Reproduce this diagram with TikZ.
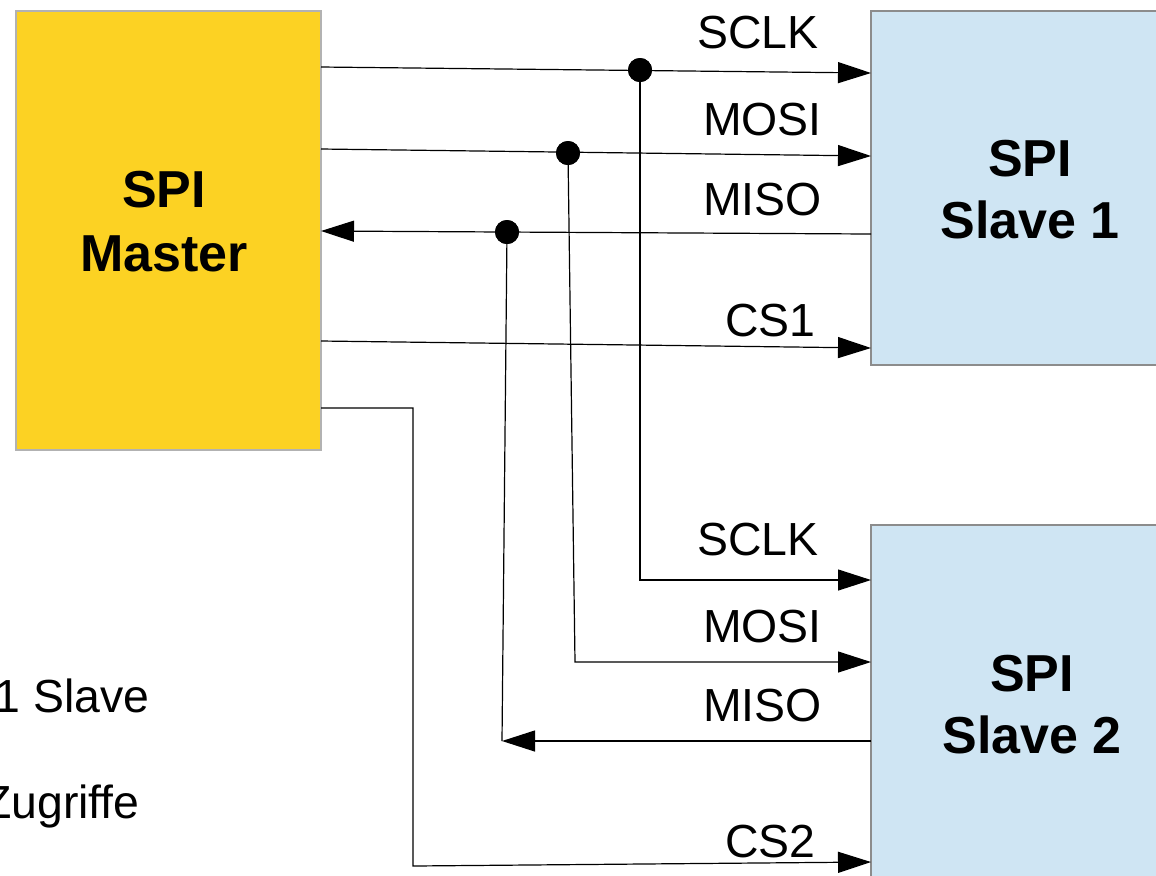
\documentclass[tikz,border=0pt]{standalone}
\usepackage{fontspec}
\setmainfont{Liberation Sans}
\usetikzlibrary{arrows.meta}
\definecolor{masterY}{RGB}{252,210,35}
\definecolor{slaveB}{RGB}{207,229,243}
\begin{document}
\begin{tikzpicture}[x=0.5pt,y=-0.5pt,
  box/.style={line width=0.6pt, inner sep=0pt},
  btxt/.style={align=center, inner sep=0pt, font=\bfseries\fontsize{26}{31}\selectfont},
  wire/.style={line width=0.6pt, draw=black},
  sig/.style={wire, -{Triangle[length=16.5pt,width=10.5pt]}},
  lbl/.style={anchor=base east, inner sep=0pt, font=\fontsize{23.2}{27}\selectfont},
  dotn/.style={circle, fill=black, inner sep=0pt, minimum size=12pt}]
\useasboundingbox (0,0) rectangle (1156,875);
\clip (0,0) rectangle (1156,875);
% boxes
\node[box, draw=black!30, fill=masterY, minimum width=152.5pt, minimum height=219.5pt] (master) at (168.5,230.5) {};
\node[btxt, font=\bfseries\fontsize{26}{32}\selectfont] (mtext) at (164,222) {SPI\\Master};
\node[box, draw=black!45, fill=slaveB, minimum width=159pt, minimum height=177pt] (slave1) at (1030,188) {};
\node[btxt] (s1text) at (1030,190) {SPI\\Slave 1};
\node[box, draw=black!45, fill=slaveB, minimum width=159pt, minimum height=180pt] (slave2) at (1030,705) {};
\node[btxt] (s2text) at (1032,705) {SPI\\Slave 2};
% coordinates on master
\coordinate (mSCLK) at (321,67);
\coordinate (mMOSI) at (321,149);
\coordinate (mMISO) at (321,231);
\coordinate (mCS1) at (321,341);
\coordinate (mCS2) at (321,408);
% coordinates on slave 1
\coordinate (aSCLK) at (871,73);
\coordinate (aMOSI) at (871,156);
\coordinate (aMISO) at (871,234);
\coordinate (aCS1) at (871,348);
% coordinates on slave 2
\coordinate (bSCLK) at (871,580);
\coordinate (bMOSI) at (871,662);
\coordinate (bMISO) at (871,741);
\coordinate (bCS2) at (871,862);
% junctions
\node[dotn] (jSCLK) at (640,70) {};
\node[dotn] (jMOSI) at (568,153) {};
\node[dotn] (jMISO) at (507,232) {};
\coordinate (cSCLK) at (640,580);
\coordinate (cMOSI) at (575,662);
\coordinate (cMISO) at (502,741);
\coordinate (cCS2a) at (413,408);
\coordinate (cCS2b) at (413,866);
% wires to slave 1
\draw[sig] (mSCLK) -- (aSCLK);
\draw[sig] (mMOSI) -- (aMOSI);
\draw[sig] (aMISO) -- (mMISO);
\draw[sig] (mCS1) -- (aCS1);
% wires to slave 2
\draw[sig] (jSCLK.center) -- (cSCLK) -- (bSCLK);
\draw[sig] (jMOSI.center) -- (cMOSI) -- (bMOSI);
\draw[wire] (jMISO.center) -- (cMISO);
\draw[sig] (bMISO) -- (cMISO);
\draw[sig] (mCS2) -- (cCS2a) -- (cCS2b) -- (bCS2);
% redraw dots on top
\fill (jSCLK) circle (6pt);
\fill (jMOSI) circle (6pt);
\fill (jMISO) circle (6pt);
% labels
\node[lbl] (lSCLK1) at (819,48) {SCLK};
\node[lbl] (lMOSI1) at (822,135) {MOSI};
\node[lbl] (lMISO1) at (822,215) {MISO};
\node[lbl] (lCS1) at (816,336) {CS1};
\node[lbl] (lSCLK2) at (819,555) {SCLK};
\node[lbl] (lMOSI2) at (822,642) {MOSI};
\node[lbl] (lMISO2) at (822,721) {MISO};
\node[lbl] (lCS2) at (816,857) {CS2};
% side text
\node[lbl] (tSlave) at (150,712) {1 Slave};
\node[lbl] (tZug) at (140,818) {Zugriffe};
\end{tikzpicture}
\end{document}
